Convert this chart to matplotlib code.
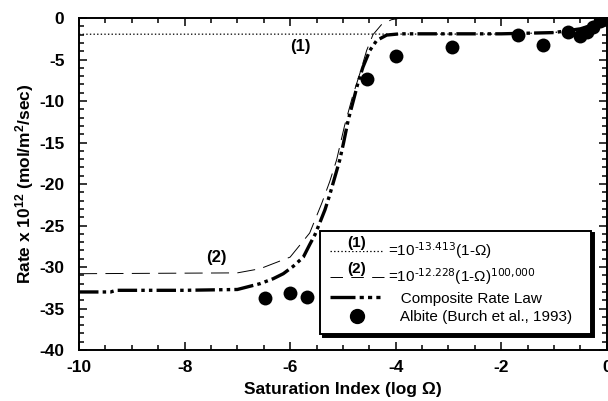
import matplotlib
matplotlib.use("Agg")
import matplotlib.pyplot as plt
from matplotlib.lines import Line2D
from matplotlib.ticker import MultipleLocator

# ---- data ----
# (1) linear rate law, 10^-13.413 (1-Omega)
sat_law1 = [-10, -2, -1, -0.5, -0.2, 0]
rate_law1 = [-1.95, -1.93, -1.75, -1.33, -0.7, 0]

# (2) highly non-linear rate law, 10^-12.228 (1-Omega)^100,000
sat_law2 = [-10, -7.0, -6.57, -6.0, -5.63, -5.40, -5.25, -5.12, -4.97, -4.82,
            -4.68, -4.55, -4.43, -4.27, -4.08, -3.9, 0]
rate_law2 = [-30.8, -30.7, -30.2, -28.8, -25.9, -22.3, -19.7, -17.1, -13.0, -9.5,
             -6.7, -3.9, -2.0, -0.8, -0.2, 0, 0]

# composite rate law
sat_comp = [-10, -9.4, -9.3, -8, -7.0, -6.57, -6.32, -6.13, -5.94, -5.75, -5.63,
            -5.53, -5.44, -5.34, -5.25, -5.15, -5.06, -4.99, -4.90, -4.80, -4.71,
            -4.62, -4.49, -4.36, -4.17, -3.92, -2, -1, -0.5, -0.2, 0]
rate_comp = [-33.0, -33.0, -32.8, -32.8, -32.7, -32.0, -31.4, -30.8, -29.9, -28.8, -27.3,
             -26.1, -24.7, -23.1, -21.3, -19.1, -17.1, -15.1, -12.3, -9.9, -7.7,
             -5.9, -3.9, -2.7, -2.05, -1.9, -1.9, -1.75, -1.3, -0.7, 0]

# albite data (Burch et al., 1993)
sat_albite = [-6.48, -6.0, -5.68, -4.55, -4.0, -2.94, -1.69, -1.21, -0.74, -0.51,
              -0.38, -0.27, -0.13]
rate_albite = [-33.7, -33.1, -33.6, -7.4, -4.6, -3.5, -2.1, -3.2, -1.7, -2.2,
               -1.7, -1.1, -0.3]

plt.rcParams["font.family"] = ["Liberation Sans", "DejaVu Sans"]
plt.rcParams["mathtext.default"] = "regular"
plt.rcParams["axes.unicode_minus"] = False
plt.rcParams["lines.scale_dashes"] = False

fig = plt.figure(figsize=(6.08, 4.01), dpi=100)
ax = fig.add_axes([0.130, 0.127, 0.868, 0.828])

dots = (0, (1.0, 1.6))
long_dash = (0, (13, 6))
comp_dash = (0, (14, 3, 2.5, 3, 2.5, 3))

ax.plot(sat_law1, rate_law1, color="black", lw=0.9, linestyle=dots)
ax.plot(sat_law2, rate_law2, color="black", lw=0.7, linestyle=long_dash)
ax.plot(sat_comp, rate_comp, color="black", lw=2.4, linestyle=comp_dash)
ax.scatter(sat_albite, rate_albite, s=100, color="black", zorder=3, linewidths=0)

ax.set_xlim(-10, 0)
ax.set_ylim(-40, 0)
ax.xaxis.set_major_locator(MultipleLocator(2))
ax.xaxis.set_minor_locator(MultipleLocator(0.5))
ax.yaxis.set_major_locator(MultipleLocator(5))
ax.yaxis.set_minor_locator(MultipleLocator(1))
ax.tick_params(which="both", direction="in", top=True, right=True,
               width=1.1, labelsize=12.5)
ax.tick_params(axis="x", pad=7)
ax.tick_params(axis="y", pad=10.5)
ax.tick_params(which="major", length=6)
ax.tick_params(which="minor", length=3.5)
for lab in ax.get_xticklabels() + ax.get_yticklabels():
    lab.set_fontweight("bold")
for sp in ax.spines.values():
    sp.set_linewidth(1.4)

ax.set_xlabel("Saturation Index (log Ω)", fontsize=12.5, fontweight="bold", labelpad=5)
ax.set_ylabel("Rate x 10$^{12}$ (mol/m$^{2}$/sec)", fontsize=12.5, fontweight="bold",
              labelpad=2)

ax.text(-5.81, -3.4, "(1)", fontsize=12, fontweight="bold", ha="center", va="center")
ax.text(-7.39, -28.9, "(2)", fontsize=12, fontweight="bold", ha="center", va="center")

handles = [
    Line2D([], [], color="black", lw=0.9, linestyle=dots),
    Line2D([], [], color="black", lw=0.7, linestyle=(0, (9, 6))),
    Line2D([], [], color="black", lw=2.4, linestyle=(0, (18, 3, 3, 3, 3, 3, 3, 3))),
    Line2D([], [], color="black", marker="o", markersize=10, linestyle="none"),
]
labels = [
    r"=10$^{\text{-13.413}}$(1-Ω)",
    r"=10$^{\text{-12.228}}$(1-Ω)$^{\text{100,000}}$",
    "   Composite Rate Law",
    "   Albite (Burch et al., 1993)  ",
]
leg = ax.legend(handles, labels, loc="lower right", bbox_to_anchor=(0.970, 0.048),
                fontsize=11, handlelength=3.5, handletextpad=0.3,
                labelspacing=0.3, borderpad=0.65, borderaxespad=0,
                frameon=True, fancybox=False, framealpha=1,
                edgecolor="black", shadow={"color": "black", "alpha": 1})
leg.get_frame().set_linewidth(1.4)

# "(1)" / "(2)" tags sitting on the legend sample lines
fig.canvas.draw()
inv = fig.transFigure.inverted()
for line, tag in zip(leg.get_lines()[:2], ["(1)", "(2)"]):
    bb = line.get_window_extent()
    cx, cy = inv.transform(((bb.x0 + bb.x1) / 2, (bb.y0 + bb.y1) / 2 + 8))
    fig.text(cx, cy, tag, fontsize=11, fontweight="bold", ha="center", va="center",
             bbox=dict(facecolor="white", edgecolor="none", pad=0.3))

fig.savefig("out.png", dpi=100)
